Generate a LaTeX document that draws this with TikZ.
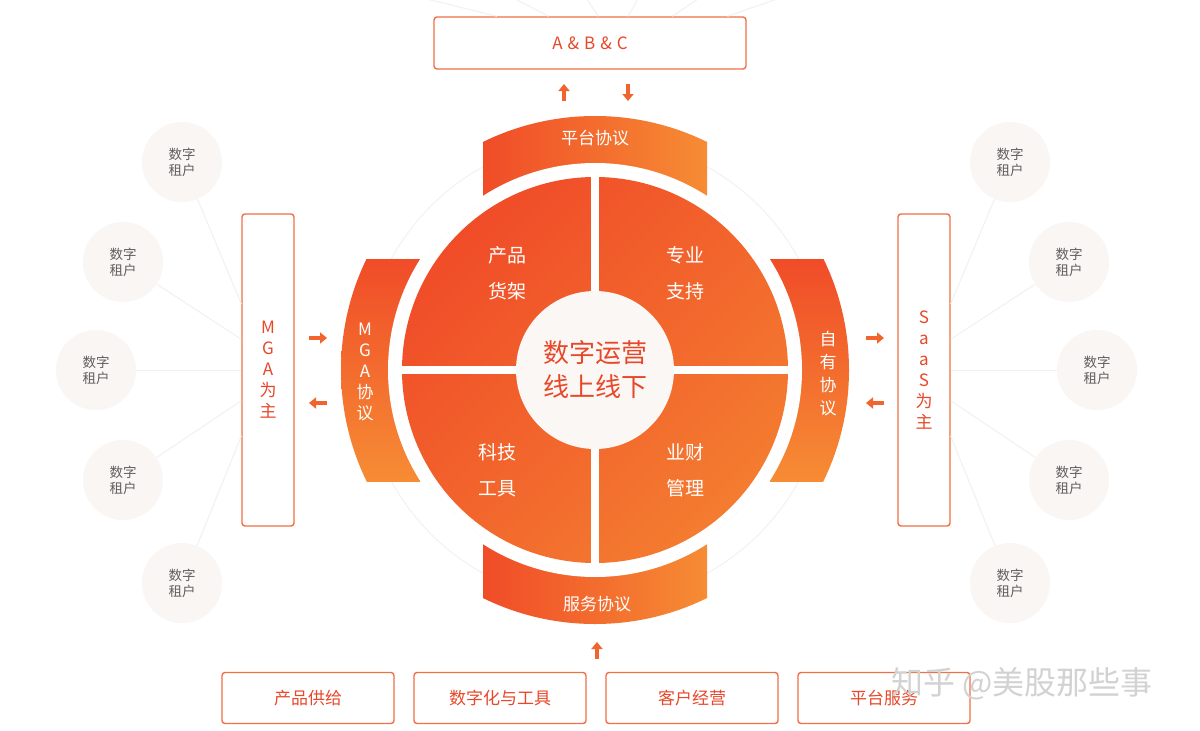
\documentclass[tikz,border=0pt]{standalone}
\usepackage{fontspec}
\setmainfont{Noto Sans CJK SC}
\usepackage{tikz}
\usetikzlibrary{positioning,calc,arrows.meta}
\definecolor{hotred}{RGB}{240,76,40}
\definecolor{warmorange}{RGB}{246,140,52}
\definecolor{midorange}{RGB}{244,124,48}
\definecolor{labelred}{RGB}{232,72,42}
\definecolor{boxline}{RGB}{240,112,70}
\definecolor{tenantfill}{RGB}{249,246,243}
\definecolor{tenanttext}{RGB}{95,95,95}
\definecolor{hubfill}{RGB}{251,247,244}
\definecolor{arrowcolor}{RGB}{242,100,45}

\begin{document}
\begin{tikzpicture}[x=1pt, y=-1pt,
    tenant/.style={circle, fill=tenantfill, minimum size=80pt, inner sep=0pt, align=center, text=tenanttext, font=\fontsize{13.5}{16}\selectfont},
    framebox/.style={draw=boxline, line width=1.4pt, rounded corners=3pt, fill=white, align=center, text=labelred, font=\fontsize{17}{21}\selectfont, inner sep=0pt},
    link/.style={gray!11, line width=1pt},
    flow/.style={-{Triangle[length=7pt,width=11pt]}, line width=3.2pt, arrowcolor},
    bandtext/.style={text=white, align=center, font=\fontsize{17}{22}\selectfont},
    quadtext/.style={text=white, align=center, font=\fontsize{19}{36}\selectfont}
]
    \useasboundingbox (0,0) rectangle (1200,731);
    \fill[white] (0,0) rectangle (1200,731);

    % Outer boxes
    \node[framebox, minimum width=312pt, minimum height=52pt] (abc) at (590,43) {A\hspace{5pt}\&\hspace{5pt}B\hspace{5pt}\&\hspace{5pt}C};
    \node[framebox, minimum width=52pt, minimum height=312pt] (mga) at (268,370) {M\\G\\A\\为\\主};
    \node[framebox, minimum width=52pt, minimum height=312pt] (saas) at (924,370) {S\\a\\a\\S\\为\\主};

    % Tenants, left
    \node[tenant] (tl1) at (182,162) {数字\\租户};
    \node[tenant] (tl2) at (123,262) {数字\\租户};
    \node[tenant] (tl3) at (96,370) {数字\\租户};
    \node[tenant] (tl4) at (123,480) {数字\\租户};
    \node[tenant] (tl5) at (182,583) {数字\\租户};

    % Tenants, right
    \node[tenant] (tr1) at (1010,162) {数字\\租户};
    \node[tenant] (tr2) at (1069,262) {数字\\租户};
    \node[tenant] (tr3) at (1097,370) {数字\\租户};
    \node[tenant] (tr4) at (1069,480) {数字\\租户};
    \node[tenant] (tr5) at (1010,583) {数字\\租户};

    % Tenant links
    \draw[link] (tl1) -- (mga.112);
    \draw[link] (tl2) -- (mga.131);
    \draw[link] (tl3) -- (mga.west);
    \draw[link] (tl4) -- (mga.229);
    \draw[link] (tl5) -- (mga.248);
    \draw[link] (tr1) -- (saas.68);
    \draw[link] (tr2) -- (saas.49);
    \draw[link] (tr3) -- (saas.east);
    \draw[link] (tr4) -- (saas.-49);
    \draw[link] (tr5) -- (saas.-68);

    % Links from above
    \coordinate (up1) at (427,-1);
    \coordinate (up2) at (515,-1);
    \coordinate (up3) at (587,-1);
    \coordinate (up4) at (638,-1);
    \coordinate (up5) at (698,-1);
    \coordinate (up6) at (777,-1);
    \draw[link] (up1) -- (abc.164);
    \draw[link] (up2) -- (abc.147);
    \draw[link] (up3) -- (abc.73);
    \draw[link] (up4) -- (abc.35);
    \draw[link] (up5) -- (abc.18);
    \draw[link] (up6) -- (abc.11);

    % Faint ring
    \draw[gray!10, line width=1pt] (595,370) circle (232);

    % Protocol bands
    \begin{scope}
        \clip (595,370) circle (254);
        \shade[left color=hotred, right color=warmorange] (483,100) rectangle (707,240);
        \shade[left color=hotred, right color=warmorange] (483,500) rectangle (707,640);
        \shade[top color=hotred, bottom color=warmorange] (330,259) rectangle (420,481);
        \shade[top color=hotred, bottom color=warmorange] (770,259) rectangle (860,481);
    \end{scope}
    \fill[white] (595,370) circle (207);
    \draw[gray!20, dotted] (595,370) circle (201);

    % Quadrants
    \shade[shading=axis, top color=hotred, bottom color=midorange, shading angle=45] (595,370) circle (193);
    \draw[white, line width=8pt] (595,176) -- (595,564);
    \draw[white, line width=8pt] (401,370) -- (789,370);
    \node[circle, fill=hubfill, minimum size=158pt, inner sep=0pt, align=center, text=labelred, font=\fontsize{26}{34}\selectfont] (hub) at (595,370) {数字运营\\线上线下};

    \node[quadtext] (shelf) at (507,273) {产品\\货架};
    \node[quadtext] (support) at (685,273) {专业\\支持};
    \node[quadtext] (tools) at (497,470) {科技\\工具};
    \node[quadtext] (finance) at (685,470) {业财\\管理};

    % Band labels
    \node[bandtext] (platform) at (595,138) {平台协议};
    \node[bandtext] (service) at (597,604) {服务协议};
    \node[bandtext, font=\fontsize{17}{21}\selectfont] (mgaproto) at (365,372) {M\\G\\A\\协\\议};
    \node[bandtext, font=\fontsize{17}{23}\selectfont] (ownproto) at (828,374) {自\\有\\协\\议};

    % Flow arrows
    \coordinate (a1) at (564,101); \coordinate (a2) at (564,84);
    \coordinate (b1) at (628,84);  \coordinate (b2) at (628,101);
    \draw[flow] (a1) -- (a2);
    \draw[flow] (b1) -- (b2);
    \coordinate (c1) at (309,338); \coordinate (c2) at (327,338);
    \coordinate (d1) at (327,403); \coordinate (d2) at (309,403);
    \draw[flow] (c1) -- (c2);
    \draw[flow] (d1) -- (d2);
    \coordinate (e1) at (866,338); \coordinate (e2) at (884,338);
    \coordinate (f1) at (884,403); \coordinate (f2) at (866,403);
    \draw[flow] (e1) -- (e2);
    \draw[flow] (f1) -- (f2);
    \coordinate (g1) at (597,659); \coordinate (g2) at (597,642);
    \draw[flow] (g1) -- (g2);

    % Bottom boxes
    \node[framebox, minimum width=172pt, minimum height=51pt] (supply) at (308,698) {产品供给};
    \node[framebox, minimum width=172pt, minimum height=51pt] (digital) at (500,698) {数字化与工具};
    \node[framebox, minimum width=172pt, minimum height=51pt] (client) at (692,698) {客户经营};
    \node[framebox, minimum width=172pt, minimum height=51pt] (psvc) at (884,698) {平台服务};

    % Watermark
    \node[text=gray!35, font=\fontsize{32}{36}\selectfont] (mark) at (1022,684) {知乎 @美股那些事};
\end{tikzpicture}
\end{document}
